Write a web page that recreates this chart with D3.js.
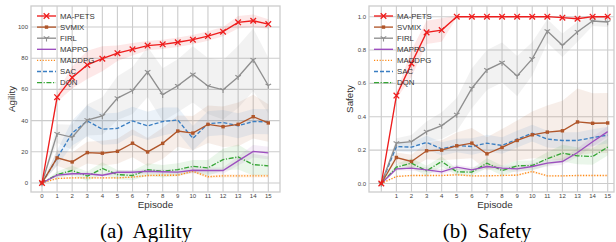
<!DOCTYPE html>
<html>
<head>
<meta charset="utf-8">
<script src="https://cdn.jsdelivr.net/npm/d3@7"></script>
<style>
  body { margin: 0; background: #fff; }
  svg { display: block; }
  .tick-label { font-family: "Liberation Sans", Arial, sans-serif; font-size: 6px; fill: #444; }
  .axis-title { font-family: "Liberation Sans", Arial, sans-serif; font-size: 9.8px; fill: #333; }
  .legend-text { font-family: "Liberation Sans", Arial, sans-serif; font-size: 7.8px; fill: #333; }
  .caption { font-family: "Liberation Serif", "Times New Roman", serif; font-size: 21px; fill: #000; white-space: pre; }
</style>
</head>
<body>
<script>
width = 616;
height = 242;

// episodes on the x axis
const episodes = [0, 1, 2, 3, 4, 5, 6, 7, 8, 9, 10, 11, 12, 13, 14, 15];
const methods = ["MA-PETS", "SVMIX", "FIRL", "MAPPO", "MADDPG", "SAC", "DQN"];

// (a) Agility: mean and spread per method
const agilityMaPets = [0, 55, 67.6, 75.7, 79.7, 83.2, 85.7, 88.1, 88.9, 90.2, 91.9, 94.2, 97, 103, 104, 101.9];
const agilitySvmix  = [0, 16.1, 13.5, 19.5, 19.1, 20.3, 25.5, 19.9, 25.4, 33.3, 32, 37.6, 36.1, 37.6, 42.5, 38.5];
const agilityFirl   = [0, 31.6, 29.3, 40.4, 43, 54.4, 59.3, 71.2, 56.6, 62.3, 69.6, 62.2, 59.7, 68, 79, 62.5];
const agilityMappo  = [0, 5, 5.9, 5.9, 5, 6.9, 6.9, 7.5, 7.2, 7, 8.2, 8, 8, 14.2, 20.3, 19.3];
const agilityMaddpg = [0, 2.9, 3.3, 3.3, 3.3, 3.3, 3.8, 4.8, 5, 5, 7.5, 4, 4.6, 4.6, 4.6, 4.6];
const agilitySac    = [0, 16, 32, 39.8, 34.5, 35, 39.8, 36.6, 39.4, 40.4, 28.6, 38, 38.8, 36.7, 39.4, 39.2];
const agilityDqn    = [0, 5.4, 8, 4.4, 9.3, 5.4, 4.8, 8.6, 7.5, 8.6, 10.7, 9.7, 15, 16.7, 11.8, 11];

const agilityMaPetsSd = [0, 3, 7, 9, 8, 5, 4, 3, 3, 3, 3, 3, 3, 4, 4, 3];
const agilitySvmixSd  = [0, 5, 6, 7, 8, 8, 9, 9, 10, 10, 11, 12, 13, 14, 14, 12];
const agilityFirlSd   = [0, 6, 8, 10, 12, 14, 15, 16, 17, 17, 18, 18, 19, 20, 20, 18];
const agilityMappoSd  = [0, 1, 1, 1, 1, 1.5, 1.5, 1.5, 1.5, 1.5, 2, 2, 2, 3, 4, 4];
const agilityMaddpgSd = [0, 0.5, 0.5, 0.5, 0.5, 0.5, 0.5, 0.8, 0.8, 0.8, 1, 1, 1, 1, 1, 1];
const agilitySacSd    = [0, 5, 8, 10, 10, 10, 9, 9, 9, 8, 8, 8, 8, 8, 8, 8];
const agilityDqnSd    = [0, 2, 3, 3, 4, 3, 3, 4, 4, 4, 4, 5, 7, 8, 7, 6];

// (b) Safety: mean and spread per method
const safetyMaPets = [0, 0.527, 0.72, 0.906, 0.92, 1, 1, 1, 1, 1, 1, 1, 0.994, 0.988, 1, 1];
const safetySvmix  = [0, 0.156, 0.132, 0.196, 0.2, 0.226, 0.242, 0.178, 0.216, 0.258, 0.292, 0.308, 0.316, 0.369, 0.361, 0.363];
const safetyFirl   = [0, 0.242, 0.251, 0.311, 0.347, 0.413, 0.571, 0.681, 0.725, 0.645, 0.747, 0.914, 0.829, 0.91, 0.974, 0.968];
const safetyMappo  = [0, 0.088, 0.092, 0.082, 0.07, 0.098, 0.082, 0.102, 0.092, 0.088, 0.102, 0.122, 0.132, 0.186, 0.25, 0.311];
const safetyMaddpg = [0, 0.042, 0.048, 0.048, 0.048, 0.052, 0.046, 0.046, 0.048, 0.05, 0.072, 0.046, 0.046, 0.048, 0.048, 0.048];
const safetySac    = [0, 0.222, 0.218, 0.246, 0.208, 0.228, 0.222, 0.242, 0.228, 0.266, 0.302, 0.266, 0.258, 0.258, 0.275, 0.29];
const safetyDqn    = [0, 0.098, 0.122, 0.076, 0.132, 0.07, 0.068, 0.122, 0.078, 0.106, 0.108, 0.148, 0.182, 0.166, 0.162, 0.218];

const safetyMaPetsSd = [0, 0.02, 0.08, 0.07, 0.07, 0.005, 0, 0, 0, 0, 0, 0, 0.005, 0.008, 0.005, 0.005];
const safetySvmixSd  = [0, 0.03, 0.04, 0.05, 0.06, 0.08, 0.09, 0.1, 0.11, 0.12, 0.14, 0.16, 0.18, 0.2, 0.18, 0.18];
const safetyFirlSd   = [0, 0.03, 0.04, 0.06, 0.08, 0.1, 0.12, 0.12, 0.12, 0.12, 0.1, 0.07, 0.07, 0.06, 0.03, 0.03];
const safetyMappoSd  = [0, 0.01, 0.015, 0.015, 0.015, 0.015, 0.015, 0.015, 0.015, 0.02, 0.02, 0.02, 0.02, 0.025, 0.03, 0.03];
const safetyMaddpgSd = [0, 0.005, 0.005, 0.005, 0.005, 0.005, 0.005, 0.005, 0.005, 0.005, 0.008, 0.005, 0.005, 0.005, 0.005, 0.005];
const safetySacSd    = [0, 0.03, 0.03, 0.04, 0.04, 0.04, 0.05, 0.05, 0.05, 0.05, 0.05, 0.05, 0.05, 0.05, 0.05, 0.05];
const safetyDqnSd    = [0, 0.02, 0.03, 0.03, 0.03, 0.02, 0.02, 0.03, 0.03, 0.03, 0.03, 0.04, 0.05, 0.05, 0.05, 0.05];

const agilityTicks = [0, 20, 40, 60, 80, 100];
const safetyTicks = [0.0, 0.2, 0.4, 0.6, 0.8, 1.0];

// line styles
const styles = {
  "MA-PETS": {color: "#ee1d1d", dash: null, marker: "x", bandColor: "#ee1d1d"},
  "SVMIX":   {color: "#b0562a", dash: null, marker: "square", bandColor: "#b0562a"},
  "FIRL":    {color: "#8f8f8f", dash: null, marker: "tri", bandColor: "#7f7f7f"},
  "MAPPO":   {color: "#9d4fbf", dash: null, marker: null, bandColor: "#9d4fbf"},
  "MADDPG":  {color: "#ff8a16", dash: "1.2,1.6", marker: null, bandColor: "#ff8a16"},
  "SAC":     {color: "#3a7ec2", dash: "4,2", marker: null, bandColor: "#3a7ec2"},
  "DQN":     {color: "#35a535", dash: "5,1.6,1.2,1.6", marker: null, bandColor: "#35a535"}
};

function makeSeries(means, sds){
  return methods.map((m, i) => ({
    name: m,
    points: episodes.map((e, j) => ({x: e, y: means[i][j], sd: sds[i][j]}))
  }));
}

const agilitySeries = makeSeries(
  [agilityMaPets, agilitySvmix, agilityFirl, agilityMappo, agilityMaddpg, agilitySac, agilityDqn],
  [agilityMaPetsSd, agilitySvmixSd, agilityFirlSd, agilityMappoSd, agilityMaddpgSd, agilitySacSd, agilityDqnSd]);
const safetySeries = makeSeries(
  [safetyMaPets, safetySvmix, safetyFirl, safetyMappo, safetyMaddpg, safetySac, safetyDqn],
  [safetyMaPetsSd, safetySvmixSd, safetyFirlSd, safetyMappoSd, safetyMaddpgSd, safetySacSd, safetyDqnSd]);

const svg = d3.select("body").append("svg")
    .attr("width", width)
    .attr("height", height);

function drawMarker(g, type, cx, cy, color){
  if (type === "x") {
    const s = 2.8;
    g.append("path")
      .attr("d", `M${cx-s},${cy-s}L${cx+s},${cy+s}M${cx-s},${cy+s}L${cx+s},${cy-s}`)
      .attr("stroke", color).attr("stroke-width", 1.3).attr("fill", "none");
  } else if (type === "square") {
    g.append("rect")
      .attr("x", cx - 1.7).attr("y", cy - 1.7)
      .attr("width", 3.4).attr("height", 3.4)
      .attr("fill", color);
  } else if (type === "tri") {
    const s = 3.2;
    g.append("path")
      .attr("d", `M${cx},${cy}L${cx},${cy+s}M${cx},${cy}L${cx-s*0.87},${cy-s*0.5}M${cx},${cy}L${cx+s*0.87},${cy-s*0.5}`)
      .attr("stroke", color).attr("stroke-width", 1.1).attr("fill", "none");
  }
}

function drawPanel(opts){
  const {left, right, top, bottom, x0, x15, yScale, ticks, fmt, series, yLabel, xTicks, xTitleX, legendX} = opts;
  const x = d3.scaleLinear().domain([0, 15]).range([x0, x15]);
  const y = yScale;
  const g = svg.append("g");

  // grid
  g.selectAll(".vgrid").data(episodes).enter().append("line")
    .attr("x1", d => x(d)).attr("x2", d => x(d))
    .attr("y1", top).attr("y2", bottom)
    .attr("stroke", "#cccccc").attr("stroke-width", 1.1);
  g.selectAll(".hgrid").data(ticks).enter().append("line")
    .attr("x1", left).attr("x2", right)
    .attr("y1", d => y(d)).attr("y2", d => y(d))
    .attr("stroke", "#cccccc").attr("stroke-width", 1.1);

  // frame
  g.append("rect")
    .attr("x", left).attr("y", top)
    .attr("width", right - left).attr("height", bottom - top)
    .attr("fill", "none").attr("stroke", "#cccccc").attr("stroke-width", 1.3);

  // tick labels
  g.selectAll(".ytl").data(ticks).enter().append("text")
    .attr("class", "tick-label")
    .attr("x", left - 3).attr("y", d => y(d) + 2)
    .attr("text-anchor", "end")
    .text(fmt);
  g.selectAll(".xtl").data(xTicks).enter().append("text")
    .attr("class", "tick-label")
    .attr("x", d => x(d)).attr("y", bottom + 6)
    .attr("text-anchor", "middle")
    .text(d => d);

  g.append("text").attr("class", "axis-title")
    .attr("x", xTitleX).attr("y", 208)
    .attr("text-anchor", "middle")
    .text("Episode");
  g.append("text").attr("class", "axis-title")
    .attr("transform", `translate(${left - 16},${(top + bottom) / 2}) rotate(-90)`)
    .attr("text-anchor", "middle")
    .text(yLabel);

  const clip = "clip" + Math.round(left);
  svg.append("clipPath").attr("id", clip).append("rect")
    .attr("x", left).attr("y", top).attr("width", right - left).attr("height", bottom - top);
  const plot = g.append("g").attr("clip-path", `url(#${clip})`);

  // bands
  const area = d3.area()
    .x(d => x(d.x))
    .y0(d => y(d.y - d.sd))
    .y1(d => y(d.y + d.sd));
  series.forEach(s => {
    plot.append("path")
      .datum(s.points)
      .attr("d", area)
      .attr("fill", styles[s.name].bandColor)
      .attr("fill-opacity", 0.1);
  });

  // lines, drawn bottom to top like the legend order reversed
  const line = d3.line().x(d => x(d.x)).y(d => y(d.y));
  series.slice().reverse().forEach(s => {
    const st = styles[s.name];
    plot.append("path")
      .datum(s.points)
      .attr("d", line)
      .attr("fill", "none")
      .attr("stroke", st.color)
      .attr("stroke-width", 1.35)
      .attr("stroke-dasharray", st.dash);
    if (st.marker) {
      s.points.forEach(p => drawMarker(plot, st.marker, x(p.x), y(p.y), st.color));
    }
  });

  // legend
  const lg = g.append("g");
  methods.forEach((m, i) => {
    const st = styles[m];
    const ly = 16 + i * 11.1;
    lg.append("line")
      .attr("x1", legendX).attr("x2", legendX + 19)
      .attr("y1", ly).attr("y2", ly)
      .attr("stroke", st.color).attr("stroke-width", 1.35)
      .attr("stroke-dasharray", st.dash);
    if (st.marker) drawMarker(lg, st.marker, legendX + 9.5, ly, st.color);
    lg.append("text").attr("class", "legend-text")
      .attr("x", legendX + 23).attr("y", ly + 2.8)
      .text(m);
  });
}

drawPanel({
  left: 31, right: 280, top: 6, bottom: 192,
  x0: 42, x15: 268.3,
  yScale: d3.scaleLinear().domain([0, 100]).range([183, 27]),
  ticks: agilityTicks, fmt: d => d,
  series: agilitySeries, yLabel: "Agility",
  xTicks: episodes, xTitleX: 155.5, legendX: 37
});

drawPanel({
  left: 369, right: 614, top: 6, bottom: 192,
  x0: 381.3, x15: 607.7,
  yScale: d3.scaleLinear().domain([0, 1]).range([183.5, 16.7]),
  ticks: safetyTicks, fmt: d => d.toFixed(1),
  series: safetySeries, yLabel: "Safety",
  xTicks: episodes.slice(1), xTitleX: 495, legendX: 374
});

svg.append("text").attr("class", "caption")
  .attr("x", 146).attr("y", 237.5).attr("text-anchor", "middle")
  .text("(a)  Agility");
svg.append("text").attr("class", "caption")
  .attr("x", 487).attr("y", 237.5).attr("text-anchor", "middle")
  .text("(b)  Safety");
</script>
</body>
</html>
